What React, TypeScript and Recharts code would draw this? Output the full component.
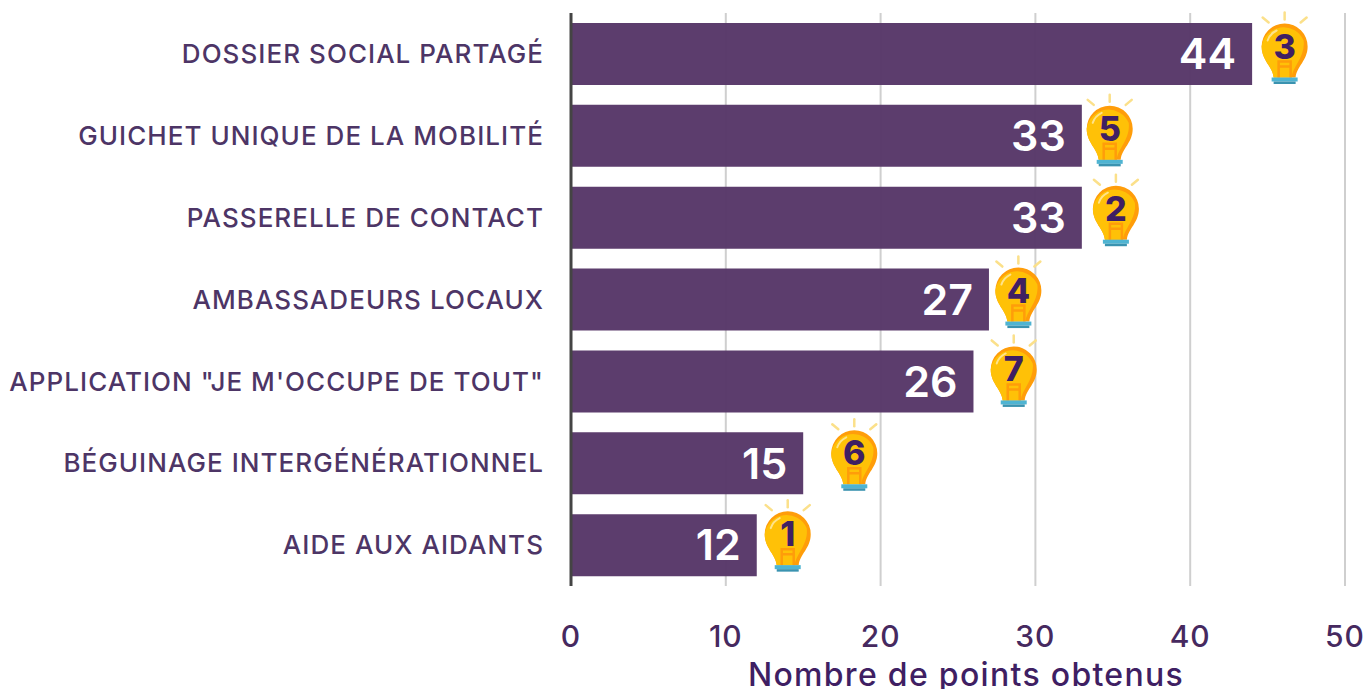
import React from "react";
import { BarChart, Bar, XAxis, YAxis, CartesianGrid, LabelList } from "recharts";

const projects = [
  "DOSSIER SOCIAL PARTAGÉ",
  "GUICHET UNIQUE DE LA MOBILITÉ",
  "PASSERELLE DE CONTACT",
  "AMBASSADEURS LOCAUX",
  'APPLICATION "JE M\'OCCUPE DE TOUT"',
  "BÉGUINAGE INTERGÉNÉRATIONNEL",
  "AIDE AUX AIDANTS",
];
const points = [44, 33, 33, 27, 26, 15, 12];
// number shown in each bulb, and where the bulb sits on the points scale
const ranks = [3, 5, 2, 4, 7, 6, 1];
const bulbAt = [46.1, 34.8, 35.2, 28.9, 28.6, 18.3, 14.0];
const xTicks = [0, 10, 20, 30, 40, 50];

const data = projects.map((name, i) => ({
  name,
  points: points[i],
  rank: ranks[i],
  bulbAt: bulbAt[i],
}));

const FONT = "Inter, 'Noto Sans', sans-serif";
const PURPLE = "#46295f";

// the bulbs were placed by hand in the original, so each one sits a bit differently
const bulbLift: Record<number, number> = { 3: 7.5, 5: 7, 2: 9, 4: 9, 7: 12, 6: 10, 1: 11 };

const Bulb = (props: any) => {
  const { x, y, width, height, payload } = props;
  const cx = x + width;
  const cy = y + height / 2 - bulbLift[payload.rank];
  const body = "M-11 31 C-12 20 -23 14 -23 0 A23 23 0 0 1 23 0 C23 14 12 20 11 31 Z";
  return (
    <g transform={`translate(${cx},${cy})`}>
      <g stroke="#fbe08a" strokeWidth={2.5} strokeLinecap="round">
        <line x1={0} y1={-34} x2={0} y2={-27} />
        <line x1={-22} y1={-29} x2={-16} y2={-24} />
        <line x1={22} y1={-29} x2={16} y2={-24} />
      </g>
      <path d={body} fill="#ff9d0a" />
      <path d="M-11 31 C-12 20 -23 14 -23 0 A22 22 0 0 1 19 -6 C21 10 8 20 7 31 Z" fill="#ffc107" />
      <path d="M-17 -6 A17 17 0 0 1 -8 -16" fill="none" stroke="#ffe38a" strokeWidth={2} strokeLinecap="round" />
      <path d="M-6 31 V15 H6 V31 M-6 20 H6" fill="none" stroke="#ff9d0a" strokeWidth={2.5} />
      <rect x={-13} y={31} width={26} height={4} fill="#4fb4d2" />
      <rect x={-11} y={35} width={22} height={2.5} fill="#3a93b0" />
      <text x={0} y={12} textAnchor="middle" fontFamily={FONT} fontWeight={800} fontSize={34} fill="#3f1f63">
        {payload.rank}
      </text>
    </g>
  );
};

export default function App() {
  return (
    <div style={{ position: "absolute", left: 0, top: 0 }}>
      <BarChart
        width={1367}
        height={689}
        data={data}
        layout="vertical"
        margin={{ top: 13, right: 22, bottom: 0, left: 0 }}
        barSize={62}
        barGap={-62}
      >
        <CartesianGrid horizontal={false} stroke="#cfcfcf" strokeWidth={2} />
        <XAxis
          type="number"
          domain={[0, 50]}
          ticks={xTicks}
          axisLine={false}
          tickLine={false}
          tickMargin={34}
          tick={{ fontFamily: FONT, fontSize: 30, fontWeight: 500, fill: PURPLE, letterSpacing: 1 }}
          label={{
            value: "Nombre de points obtenus",
            position: "insideBottom",
            dx: 8,
            dy: 2,
            fontFamily: FONT,
            fontSize: 32,
            fontWeight: 500,
            fill: "#3f1f63",
            letterSpacing: 1.3,
          }}
          height={103}
        />
        <YAxis
          type="category"
          dataKey="name"
          width={571}
          interval={0}
          axisLine={{ stroke: "#444444", strokeWidth: 3 }}
          tickLine={false}
          tickMargin={21}
          tick={{ fontFamily: FONT, fontSize: 26, fontWeight: 500, fill: "#4d3566", letterSpacing: 1.05 }}
        />
        <Bar dataKey="points" fill="#573768" fillOpacity={0.97} isAnimationActive={false}>
          <LabelList
            dataKey="points"
            position="insideRight"
            offset={16}
            fill="#ffffff"
            fontFamily={FONT}
            fontSize={43}
            fontWeight={600}
          />
        </Bar>
        <Bar dataKey="bulbAt" fill="none" shape={Bulb} isAnimationActive={false} />
      </BarChart>
    </div>
  );
}
